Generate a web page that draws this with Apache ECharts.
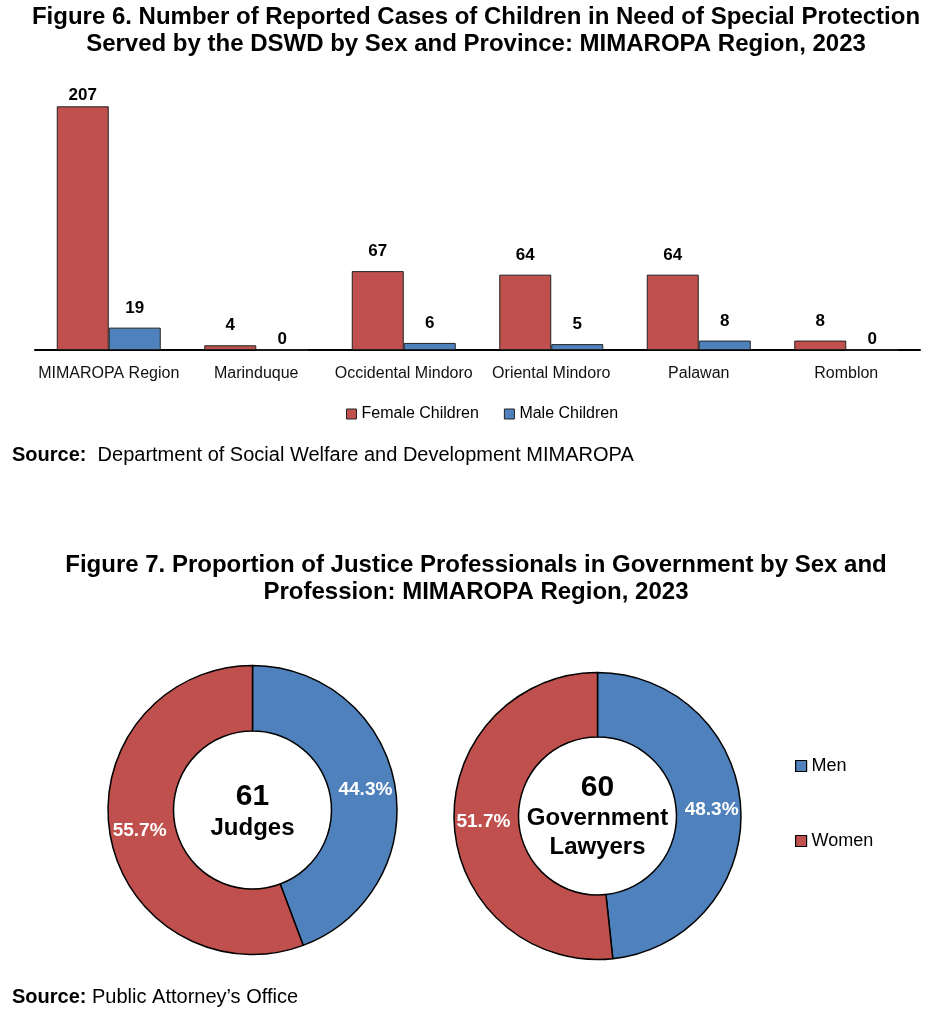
<!DOCTYPE html>
<html>
<head>
<meta charset="utf-8">
<script src="https://cdn.jsdelivr.net/npm/echarts@6/dist/echarts.min.js"></script>
<style>
html,body{margin:0;padding:0;background:#fff;}
#chart{width:952px;height:1017px;}
</style>
</head>
<body>
<div id="chart"></div>
<script>
// ---- Data ----
const categories = ['MIMAROPA Region', 'Marinduque', 'Occidental Mindoro', 'Oriental Mindoro', 'Palawan', 'Romblon'];
const femaleChildren = [207, 4, 67, 64, 64, 8];
const maleChildren = [19, 0, 6, 5, 8, 0];
const sexLabels = ['Men', 'Women'];
const judgesShare = [44.3, 55.7];
const lawyersShare = [48.3, 51.7];
const judgesTotal = 61;
const lawyersTotal = 60;

const RED = '#C0504D';
const BLUE = '#4F81BD';
const FONT = 'Liberation Sans, Arial, sans-serif';

const chart = echarts.init(document.getElementById('chart'));

const maxVal = Math.max(...femaleChildren, ...maleChildren);
function barData(arr) {
  return arr.map(v => ({
    value: v,
    label: { distance: (v === 0 || v === maxVal) ? 2 : 11 }
  }));
}

const pie1Center = [252.5, 810];
const pie2Center = [597.5, 816];

function pieSeries(name, shares, center, outerR) {
  return {
    type: 'pie',
    name: name,
    center: center,
    radius: [79, outerR],
    startAngle: 90,
    clockwise: true,
    avoidLabelOverlap: false,
    itemStyle: { borderColor: '#000', borderWidth: 1.5 },
    label: {
      show: true,
      position: 'inside',
      color: '#fff',
      fontFamily: FONT,
      fontWeight: 'bold',
      fontSize: 19,
      formatter: p => p.value.toFixed(1) + '%'
    },
    labelLine: { show: false },
    emphasis: { disabled: true },
    data: sexLabels.map((s, i) => ({ name: s, value: shares[i], itemStyle: { color: i === 0 ? BLUE : RED } }))
  };
}

const option = {
  backgroundColor: '#fff',
  animation: false,
  title: [
    {
      text: 'Figure 6. Number of Reported Cases of Children in Need of Special Protection\nServed by the DSWD by Sex and Province: MIMAROPA Region, 2023',
      left: 'center', top: 4, padding: [0, 0, 0, 8],
      textStyle: { fontFamily: FONT, fontWeight: 'bold', fontSize: 24, lineHeight: 27, color: '#000', align: 'center' }
    },
    {
      text: '{b|Source:}  Department of Social Welfare and Development MIMAROPA',
      left: 12, top: 445, padding: 0,
      textStyle: { fontFamily: FONT, fontSize: 20, fontWeight: 'normal', color: '#000', rich: { b: { fontFamily: FONT, fontSize: 20, fontWeight: 'bold', color: '#000' } } }
    },
    {
      text: 'Figure 7. Proportion of Justice Professionals in Government by Sex and\nProfession: MIMAROPA Region, 2023',
      left: 'center', top: 552, padding: [0, 0, 0, 16],
      textStyle: { fontFamily: FONT, fontWeight: 'bold', fontSize: 24, lineHeight: 27, color: '#000', align: 'center' }
    },
    {
      text: '{b|Source:} Public Attorney\u2019s Office',
      left: 12, top: 987, padding: 0,
      textStyle: { fontFamily: FONT, fontSize: 20, fontWeight: 'normal', color: '#000', rich: { b: { fontFamily: FONT, fontSize: 20, fontWeight: 'bold', color: '#000' } } }
    }
  ],
  legend: [
    {
      data: ['Female Children', 'Male Children'],
      left: 346, top: 406,
      itemWidth: 10, itemHeight: 10, itemGap: 25,
      icon: 'rect',
      itemStyle: { borderColor: '#222', borderWidth: 1 },
      textStyle: { fontFamily: FONT, fontSize: 16, color: '#000' },
      padding: 0
    },
    {
      data: sexLabels,
      orient: 'vertical',
      left: 795, top: 757,
      itemWidth: 11, itemHeight: 11, itemGap: 57,
      icon: 'rect',
      itemStyle: { borderColor: '#000', borderWidth: 1.2 },
      textStyle: { fontFamily: FONT, fontSize: 18, color: '#000' },
      padding: 0
    }
  ],
  grid: { left: 35, right: 32, top: 91, height: 259, containLabel: false },
  xAxis: {
    type: 'category',
    data: categories,
    axisLine: { show: true, lineStyle: { color: '#000', width: 2 } },
    axisTick: { show: false },
    axisLabel: { fontFamily: FONT, fontSize: 16, color: '#111', margin: 16, interval: 0 }
  },
  yAxis: {
    type: 'value', min: 0, max: 220,
    show: false, splitLine: { show: false }
  },
  series: [
    {
      type: 'bar', name: 'Female Children',
      data: barData(femaleChildren),
      barWidth: 52, barGap: '0%',
      itemStyle: { color: RED, borderColor: '#222', borderWidth: 1 },
      label: { show: true, position: 'top', fontFamily: FONT, fontWeight: 'bold', fontSize: 17, color: '#000' }
    },
    {
      type: 'bar', name: 'Male Children',
      data: barData(maleChildren),
      barWidth: 52, barGap: '0%',
      itemStyle: { color: BLUE, borderColor: '#222', borderWidth: 1 },
      label: { show: true, position: 'top', fontFamily: FONT, fontWeight: 'bold', fontSize: 17, color: '#000' }
    },
    pieSeries('Judges', judgesShare, pie1Center, 144.5),
    pieSeries('Government Lawyers', lawyersShare, pie2Center, 143.5)
  ],
  graphic: [
    { type: 'text', x: pie1Center[0], y: pie1Center[1] - 13, style: { text: String(judgesTotal), textAlign: 'center', textVerticalAlign: 'middle', font: 'bold 30px ' + FONT, fill: '#000' } },
    { type: 'text', x: pie1Center[0], y: pie1Center[1] + 18, style: { text: 'Judges', textAlign: 'center', textVerticalAlign: 'middle', font: 'bold 24px ' + FONT, fill: '#000' } },
    { type: 'text', x: pie2Center[0], y: pie2Center[1] - 28, style: { text: String(lawyersTotal), textAlign: 'center', textVerticalAlign: 'middle', font: 'bold 30px ' + FONT, fill: '#000' } },
    { type: 'text', x: pie2Center[0], y: pie2Center[1] + 2, style: { text: 'Government', textAlign: 'center', textVerticalAlign: 'middle', font: 'bold 24px ' + FONT, fill: '#000' } },
    { type: 'text', x: pie2Center[0], y: pie2Center[1] + 31, style: { text: 'Lawyers', textAlign: 'center', textVerticalAlign: 'middle', font: 'bold 24px ' + FONT, fill: '#000' } }
  ]
};

chart.setOption(option);
</script>
</body>
</html>
